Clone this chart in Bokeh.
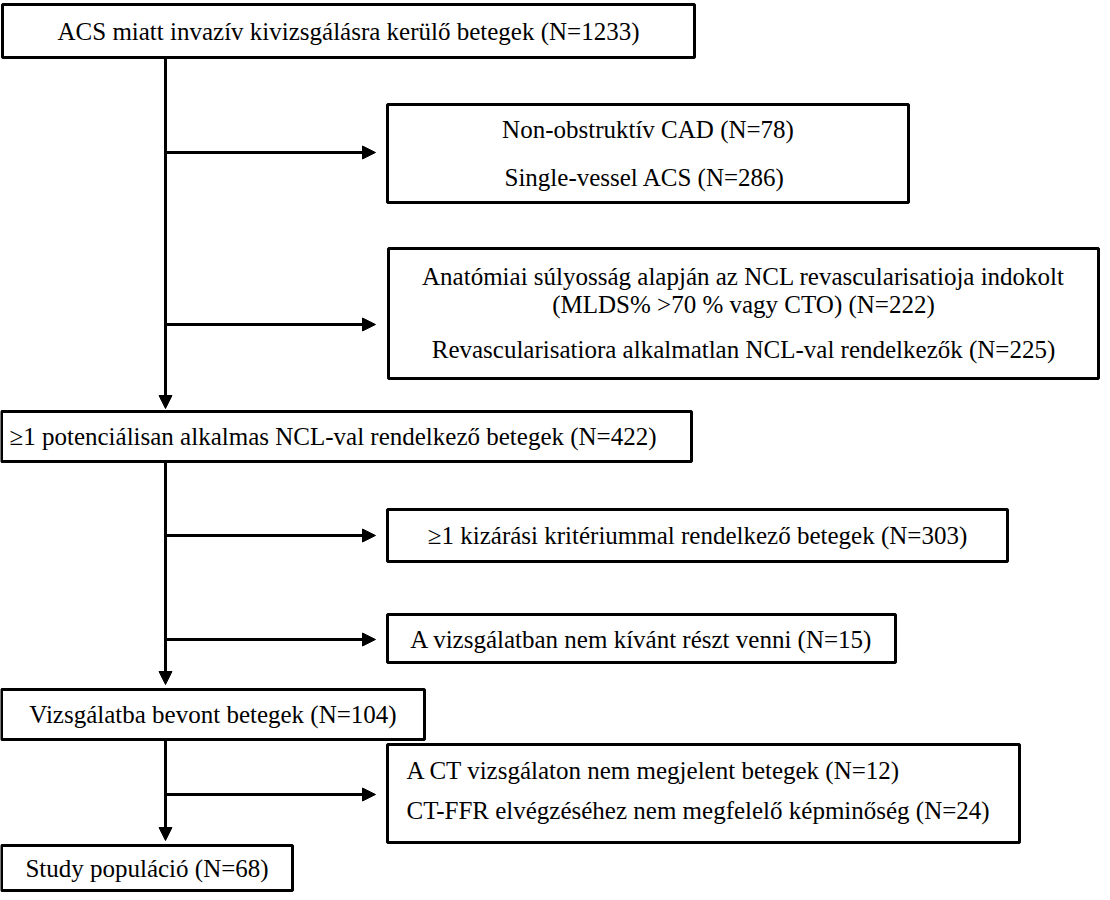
from bokeh.plotting import figure
from bokeh.models import Range1d, Arrow, NormalHead, ColumnDataSource
from bokeh.core.properties import value
from bokeh.embed import file_html
from bokeh.resources import INLINE

# ---- content ----
main_labels = [
    "ACS miatt invazív kivizsgálásra kerülő betegek (N=1233)",
    "≥1 potenciálisan alkalmas NCL-val rendelkező betegek (N=422)",
    "Vizsgálatba bevont betegek (N=104)",
    "Study populáció (N=68)",
]
main_align = ["center", "left", "center", "center"]
side_labels = [
    ["Non-obstruktív CAD (N=78)", "Single-vessel ACS  (N=286)"],
    ["Anatómiai súlyosság alapján az NCL revascularisatioja indokolt",
     "(MLDS% >70 % vagy CTO) (N=222)",
     "Revascularisatiora alkalmatlan NCL-val rendelkezők (N=225)"],
    ["≥1 kizárási kritériummal rendelkező betegek (N=303)"],
    ["A vizsgálatban nem kívánt részt venni (N=15)"],
    ["A CT vizsgálaton nem megjelent betegek (N=12)",
     "CT-FFR elvégzéséhez nem megfelelő képminőség (N=24)"],
]
side_align = ["center", "center", "center", "center", "left"]

# ---- layout (screen pixels) ----
main_box = [  # left, right, top, bottom
    (10, 702, 12, 65),
    (9, 699, 419, 469),
    (9, 432, 697, 747),
    (9, 300, 853, 898),
]
side_box = [
    (395, 916, 112, 210),
    (396, 1106, 256, 386),
    (395, 1015, 517, 569),
    (395, 903, 622, 670),
    (395, 1027, 752, 850),
]
side_line_y = [[137, 185], [284, 312, 357], [543], [647], [778, 818]]
arrow_y = [160, 332, 543, 647, 802]
trunk_x = 173
FONT = "Liberation Serif"
FS = "25px"

p = figure(width=1102, height=892, x_range=Range1d(8, 1110), y_range=Range1d(900, 8),
           output_backend="svg", toolbar_location=None, min_border=0)
p.axis.visible = False
p.grid.visible = False
p.outline_line_color = None
p.background_fill_color = "white"

def head():
    return NormalHead(size=13, fill_color="black", line_color="black", line_width=1)

# trunks (vertical arrows)
trunks = [(65, 416), (469, 692), (747, 848)]
for y0, y1 in trunks:
    p.add_layout(Arrow(end=head(), x_start=trunk_x, y_start=y0, x_end=trunk_x, y_end=y1,
                       line_width=3, line_color="black"))
# side arrows
for y in arrow_y:
    p.add_layout(Arrow(end=head(), x_start=trunk_x, y_start=y, x_end=383, y_end=y,
                       line_width=3, line_color="black"))

boxes = main_box + side_box
src = ColumnDataSource(dict(l=[b[0] for b in boxes], r=[b[1] for b in boxes],
                            t=[b[2] for b in boxes], b=[b[3] for b in boxes]))
p.quad(left="l", right="r", top="t", bottom="b", source=src,
       fill_color="white", line_color="black", line_width=3)

cx, cy, ct, lx, ly, lt = [], [], [], [], [], []
for lab, (l, r, t, b), al in zip(main_labels, main_box, main_align):
    if al == "center":
        cx.append((l + r) / 2); cy.append((t + b) / 2); ct.append(lab)
    else:
        lx.append(l + 8); ly.append((t + b) / 2); lt.append(lab)
for labs, (l, r, t, b), ys, al in zip(side_labels, side_box, side_line_y, side_align):
    for lab, y in zip(labs, ys):
        if al == "center":
            cx.append((l + r) / 2); cy.append(y); ct.append(lab)
        else:
            lx.append(l + 19); ly.append(y); lt.append(lab)
p.text(x=cx, y=cy, text=ct, text_font=value(FONT), text_font_size=value(FS),
       text_align="center", text_baseline="middle", text_color="black")
p.text(x=lx, y=ly, text=lt, text_font=value(FONT), text_font_size=value(FS),
       text_align="left", text_baseline="middle", text_color="black")

open("out.html", "w").write(file_html(p, INLINE))
